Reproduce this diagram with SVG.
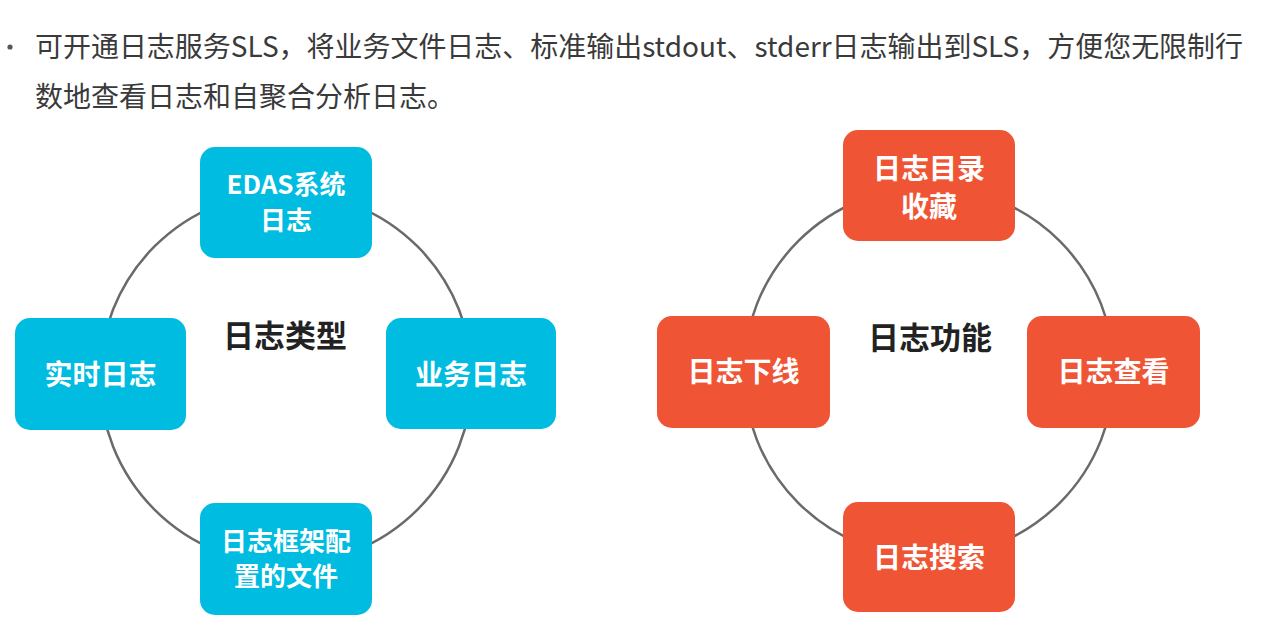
<svg xmlns="http://www.w3.org/2000/svg" width="1280" height="620" viewBox="0 0 1280 620">
<style>
.intro{font-family:"Noto Sans CJK SC","Noto Sans",sans-serif;font-size:28px;fill:#3a3a3a}
.blue{fill:#00BCE1}
.red{fill:#EF5535}
.lbl{font-family:"Noto Sans CJK SC","Noto Sans",sans-serif;font-size:28px;font-weight:bold;fill:#ffffff;text-anchor:middle}
.lbl2{font-size:26px}
.title{font-family:"Noto Sans CJK SC","Noto Sans",sans-serif;font-size:31px;font-weight:bold;fill:#222222;text-anchor:middle}
.ring{fill:none;stroke:#6a6a6a;stroke-width:2.5}
</style>
<rect width="1280" height="620" fill="#ffffff"/>
<g id="intro">
<circle cx="10" cy="47" r="2.6" fill="#555"/>
<text class="intro" x="35" y="57" textLength="1208" lengthAdjust="spacingAndGlyphs">可开通日志服务SLS，将业务文件日志、标准输出stdout、stderr日志输出到SLS，方便您无限制行</text>
<text class="intro" x="35" y="107">数地查看日志和自聚合分析日志。</text>
</g>
<g id="connectors">
<circle class="ring" cx="286" cy="378" r="186"/>
<circle class="ring" cx="929" cy="372" r="185"/>
</g>
<g id="title-types"><text class="title" x="285" y="346.5">日志类型</text></g>
<g id="node-edas">
<rect class="blue" x="200" y="147" width="172" height="111" rx="15"/>
<text class="lbl lbl2" x="286" y="194"><tspan x="286" y="194">EDAS系统</tspan><tspan x="286" y="229.5">日志</tspan></text>
</g>
<g id="node-realtime">
<rect class="blue" x="15" y="318" width="171" height="112" rx="15"/>
<text class="lbl" x="100.5" y="385">实时日志</text>
</g>
<g id="node-business">
<rect class="blue" x="386" y="318" width="170" height="111" rx="15"/>
<text class="lbl" x="471" y="385">业务日志</text>
</g>
<g id="node-framework">
<rect class="blue" x="200" y="503" width="172" height="112" rx="15"/>
<text class="lbl lbl2" x="286" y="550.5"><tspan x="286" y="550.5">日志框架配</tspan><tspan x="286" y="586">置的文件</tspan></text>
</g>
<g id="title-functions"><text class="title" x="930" y="348.5">日志功能</text></g>
<g id="node-favorite">
<rect class="red" x="843" y="130" width="172" height="111" rx="15"/>
<text class="lbl" x="929" y="179"><tspan x="929" y="179">日志目录</tspan><tspan x="929" y="217">收藏</tspan></text>
</g>
<g id="node-offline">
<rect class="red" x="657" y="316" width="173" height="112" rx="15"/>
<text class="lbl" x="743.5" y="382">日志下线</text>
</g>
<g id="node-view">
<rect class="red" x="1027" y="316" width="173" height="112" rx="15"/>
<text class="lbl" x="1113.5" y="382">日志查看</text>
</g>
<g id="node-search">
<rect class="red" x="843" y="502" width="172" height="110" rx="15"/>
<text class="lbl" x="929" y="568">日志搜索</text>
</g>
</svg>
